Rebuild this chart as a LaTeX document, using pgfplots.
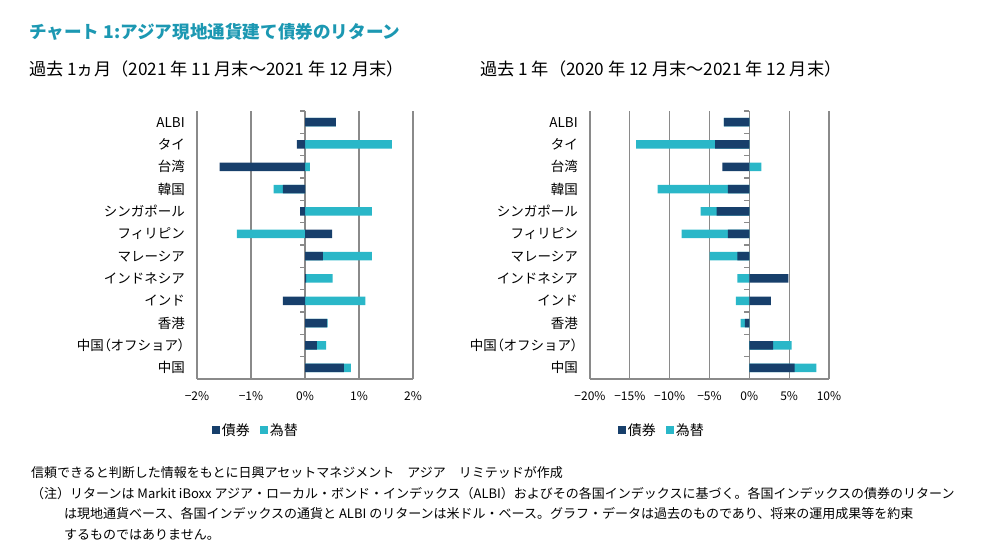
\documentclass[border=0pt]{standalone}
\usepackage{fontspec}
\setmainfont{Noto Sans CJK JP}
\newfontfamily\pfont{Noto Sans CJK JP}[RawFeature=+palt]
\usepackage{pgfplots}
\pgfplotsset{compat=1.18}
\definecolor{bond}{HTML}{173F6B}
\definecolor{fx}{HTML}{2AB7C8}
\definecolor{ttl}{HTML}{1C98B2}
\definecolor{grd}{HTML}{8A8A8A}
\pgfplotsset{mystyle/.style={
  scale only axis, height=268pt, xbar, bar shift=0pt, bar width=8.5pt,
  ymin=-0.5, ymax=11.5, ytick={0,...,11},
  yticklabels={中国,{中国{\pfont（}オフショア{\pfont）}},香港,インド,インドネシア,マレーシア,フィリピン,シンガポール,韓国,台湾,タイ,ALBI},
  axis x line*=bottom, axis y line*=left,
  y axis line style={draw=none}, x axis line style={grd, line width=1.1pt},
  major tick length=0pt,
  xmajorgrids, grid style={grd, line width=1.1pt},
  yticklabel style={font=\fontsize{13.5}{14}\selectfont, inner sep=0pt, xshift=-12pt},
  xticklabel style={font=\fontsize{12}{13}\selectfont, inner sep=0pt, yshift=-12pt},
  legend columns=2, reverse legend,
  legend style={draw=none, fill=none, font=\fontsize{14}{15}\selectfont,
    /tikz/every even column/.append style={column sep=8pt}},
  legend image code/.code={\fill[##1] (0pt,-4pt) rectangle (8pt,4pt);},
  clip=false
}}
\begin{document}
\begin{tikzpicture}
\path[use as bounding box] (0pt,0pt) rectangle (991pt,553pt);
\node[anchor=west, text=ttl, font=\fontsize{17.6}{18}\selectfont\bfseries, inner sep=0pt] at (29pt,521pt) {チャート 1:アジア現地通貨建て債券のリターン};
\node[anchor=west, font=\fontsize{17.2}{18}\selectfont, inner sep=0pt] at (29pt,484pt) {過去 1ヵ月（2021 年 11 月末～2021 年 12 月末）};
\node[anchor=west, font=\fontsize{17.2}{18}\selectfont, inner sep=0pt] at (480pt,484pt) {過去 1 年（2020 年 12 月末～2021 年 12 月末）};

\begin{axis}[mystyle, at={(197pt,174pt)}, anchor=south west, width=216pt,
  xmin=-2, xmax=2, xtick={-2,-1,0,1,2},
  xticklabels={−2\%,−1\%,0\%,1\%,2\%},
  legend style={at={(0.273,-0.19)}, anchor=center}]
\addplot[fill=fx, draw=none] coordinates {
 (0.85,0) (0.39,1) (0.42,2) (1.12,3) (0.51,4) (1.24,5) (-1.26,6) (1.24,7) (-0.58,8) (0.09,9) (1.61,10) (0.57,11)};
\addlegendentry{為替}
\addplot[fill=bond, draw=none] coordinates {
 (0.72,0) (0.22,1) (0.41,2) (-0.41,3) (0.02,4) (0.33,5) (0.50,6) (-0.09,7) (-0.41,8) (-1.58,9) (-0.15,10) (0.57,11)};
\addlegendentry{債券}
\pgfplotsinvokeforeach{0,...,12}{\draw[grd, line width=1.1pt] (axis cs:0,#1-0.5) -- ++(-5pt,0pt);}
\end{axis}

\begin{axis}[mystyle, at={(590pt,174pt)}, anchor=south west, width=239pt,
  xmin=-20, xmax=10, xtick={-20,-15,-10,-5,0,5,10},
  xticklabels={−20\%,−15\%,−10\%,−5\%,0\%,5\%,10\%},
  legend style={at={(0.301,-0.19)}, anchor=center}]
\addplot[fill=fx, draw=none] coordinates {
 (8.4,0) (5.3,1) (-1.1,2) (-1.7,3) (-1.5,4) (-5.0,5) (-8.5,6) (-6.1,7) (-11.5,8) (1.5,9) (-14.2,10) (-3.2,11)};
\addlegendentry{為替}
\addplot[fill=bond, draw=none] coordinates {
 (5.7,0) (3.0,1) (-0.55,2) (2.7,3) (4.9,4) (-1.5,5) (-2.7,6) (-4.1,7) (-2.7,8) (-3.4,9) (-4.3,10) (-3.2,11)};
\addlegendentry{債券}
\pgfplotsinvokeforeach{0,...,12}{\draw[grd, line width=1.1pt] (axis cs:0,#1-0.5) -- ++(-5pt,0pt);}
\end{axis}

\begin{scope}[every node/.style={anchor=west, inner sep=0pt, font=\fontsize{13}{14}\selectfont}]
\node at (31pt,80pt) {信頼できると判断した情報をもとに日興アセットマネジメント　アジア　リミテッドが作成};
\node at (31pt,59pt) {（注）リターンは Markit iBoxx アジア・ローカル・ボンド・インデックス（ALBI）およびその各国インデックスに基づく。各国インデックスの債券のリターン};
\node at (64pt,39pt) {は現地通貨ベース、各国インデックスの通貨と ALBI のリターンは米ドル・ベース。グラフ・データは過去のものであり、将来の運用成果等を約束};
\node at (64pt,18pt) {するものではありません。};
\end{scope}
\end{tikzpicture}
\end{document}
